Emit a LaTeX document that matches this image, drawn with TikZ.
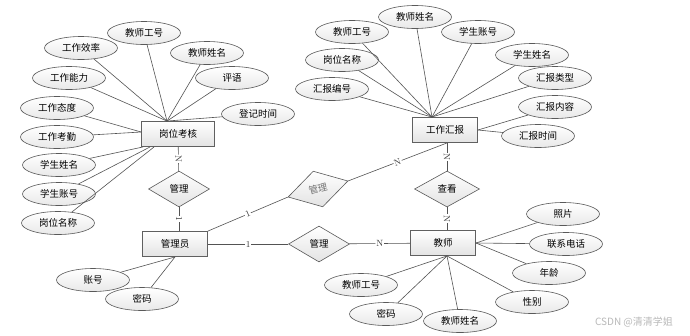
\documentclass[tikz,border=0pt]{standalone}
\usepackage{xcolor}
\usepackage{fontspec}
\newfontfamily\cjk{Noto Sans CJK SC}
\usepackage{tikz}
\usetikzlibrary{arrows.meta, positioning, shapes.geometric, calc}

\begin{document}
\begin{tikzpicture}[
  x=1pt, y=-1pt,
  entity/.style={rectangle, draw=gray!75!black, line width=0.9pt, top color=white, bottom color=gray!22,
                 minimum width=65pt, minimum height=25pt, inner sep=0pt, font=\cjk\fontsize{9.5}{11}\selectfont},
  attr/.style={ellipse, draw=gray!70!black, line width=0.6pt, top color=white, bottom color=gray!18,
               minimum width=73pt, minimum height=23pt, inner sep=0pt, font=\cjk\fontsize{9.5}{11}\selectfont},
  rel/.style={diamond, draw=gray!70!black, line width=0.6pt, top color=white, bottom color=gray!22,
              minimum width=61pt, minimum height=36pt, inner sep=0pt, font=\cjk\fontsize{9.5}{11}\selectfont},
  link/.style={draw=gray!65!black, line width=0.6pt},
  card/.style={fill=white, inner sep=0.8pt, font=\fontsize{9}{10}\selectfont, text=black!80, sloped}]

  \useasboundingbox[fill=white] (0,0) rectangle (690,335);

  \node[entity, minimum width=73pt] (KH) at (178,134) {岗位考核};
  \node[entity] (GLY) at (175,244) {管理员};
  \node[entity] (HB) at (445,130) {工作汇报};
  \node[entity] (JS) at (443,243) {教师};

  \node[rel] (R1) at (179,189) {管理};
  \node[rel, minimum width=62pt, minimum height=37pt, rotate=15, text=black!55] (R2) at (318,189) {管理};
  \node[rel] (R3) at (319,244) {管理};
  \node[rel, minimum width=65pt] (R4) at (447,189) {查看};

  \node[attr] (KHgh) at (144,33) {教师工号};
  \node[attr] (KHxl) at (81,48) {工作效率};
  \node[attr] (KHxm) at (207,53) {教师姓名};
  \node[attr] (KHnl) at (69,78) {工作能力};
  \node[attr] (KHpy) at (232,78) {评语};
  \node[attr] (KHtd) at (57,108) {工作态度};
  \node[attr] (KHsj) at (258,114) {登记时间};
  \node[attr] (KHkq) at (57,137) {工作考勤};
  \node[attr] (KHxs) at (59,165) {学生姓名};
  \node[attr] (KHzh) at (59,194) {学生账号};
  \node[attr] (KHgw) at (58,223) {岗位名称};

  \node[attr] (HBxm) at (415,17) {教师姓名};
  \node[attr] (HBgh) at (352,32) {教师工号};
  \node[attr] (HBzh) at (478,32) {学生账号};
  \node[attr] (HBgw) at (342,60) {岗位名称};
  \node[attr] (HBxs) at (532,55) {学生姓名};
  \node[attr] (HBlx) at (555,78) {汇报类型};
  \node[attr] (HBbh) at (332,89) {汇报编号};
  \node[attr] (HBnr) at (555,107) {汇报内容};
  \node[attr] (HBsj) at (538,136) {汇报时间};

  \node[attr] (JSzp) at (563,214) {照片};
  \node[attr] (JSdh) at (566,244) {联系电话};
  \node[attr] (JSnl) at (549,273) {年龄};
  \node[attr] (JSxb) at (532,302) {性别};
  \node[attr] (JSxm) at (460,321) {教师姓名};
  \node[attr] (JSmm) at (386,314) {密码};
  \node[attr] (JSgh) at (361,285) {教师工号};

  \node[attr] (GLYzh) at (93,280) {账号};
  \node[attr] (GLYmm) at (142,299) {密码};

  \node[font=\cjk\fontsize{10}{12}\selectfont, text=gray!55] (mark) at (634,322) {CSDN @清清学姐};

  \coordinate (KHtop) at ([xshift=-11pt]KH.north);
  \coordinate (KHleft) at ([yshift=2pt]KH.west);
  \coordinate (HBtop) at ([xshift=-13pt]HB.north);
  \coordinate (HBbot) at (R4 |- HB.south);
  \coordinate (JSbot) at ([xshift=4pt]JS.south);

  \foreach \a in {KHgh, KHxl, KHxm, KHnl, KHpy, KHsj}
    \draw[link] (\a) -- (KHtop);
  \draw[link] (KHtd) -- (KHleft);
  \draw[link] (KHkq) -- (KHleft);
  \draw[link] (KHxs) -- ([xshift=2pt]KH.south west);
  \draw[link] (KHzh) -- ([xshift=9pt]KH.south west);
  \draw[link] (KHgw) -- ([xshift=13pt]KH.south west);

  \foreach \a in {HBxm, HBgh, HBzh, HBgw, HBxs, HBlx, HBbh}
    \draw[link] (\a) -- (HBtop);
  \draw[link] (HBnr) -- (HB.east);
  \draw[link] (HBsj) -- (HB.east);

  \foreach \a in {JSzp, JSdh, JSnl}
    \draw[link] (\a) -- (JS.east);
  \foreach \a in {JSxb, JSxm, JSmm, JSgh}
    \draw[link] (\a) -- (JSbot);

  \draw[link] (GLYzh) -- (GLY.south);
  \draw[link] (GLYmm) -- (GLY.south);

  \draw[link] (KH) -- (R1) node[card, midway] {N};
  \draw[link] (R1) -- (R1 |- GLY.north) node[card, midway] {1};
  \draw[link] (GLY.north east) -- (R2.west) node[card, midway] {1};
  \draw[link] (R2.east) -- (HBbot) node[card, midway] {N};
  \draw[link] (HBbot) -- (R4) node[card, midway] {N};
  \draw[link] (R4) -- (R4 |- JS.north) node[card, midway] {N};
  \draw[link] (GLY) -- (R3) node[card, midway] {1};
  \draw[link] (R3) -- (JS) node[card, midway] {N};
\end{tikzpicture}
\end{document}
